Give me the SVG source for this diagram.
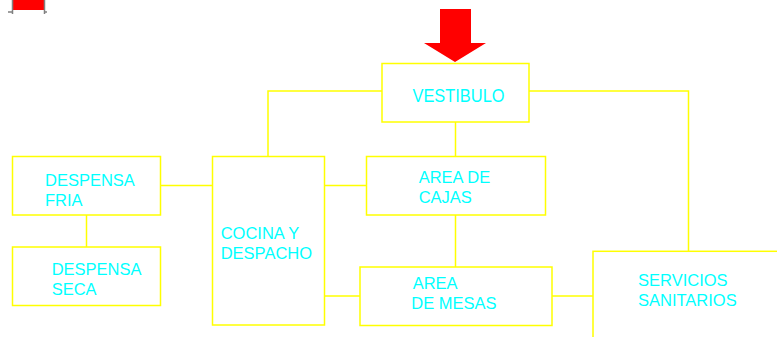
<svg xmlns="http://www.w3.org/2000/svg" width="777" height="337" viewBox="0 0 777 337">
<style>
.box{fill:none;stroke:#ffff00;stroke-width:1.5}
.con{fill:none;stroke:#ffff00;stroke-width:1.5}
.t{font-family:"Liberation Sans",Arial,sans-serif;font-size:16.5px;fill:#00ffff}
</style>
<rect width="777" height="337" fill="#ffffff"/>
<g id="marker-top-left">
<rect x="13" y="0" width="31" height="10" fill="#ff0000"/>
<path d="M12.5 0V14M44.5 0V14M8 12H12.5M44.5 12H47" stroke="#808080" stroke-width="1.5" fill="none"/>
</g>
<g id="entry-arrow">
<polygon points="440,9 471,9 471,43 486,43 455,62 424,43 440,43" fill="#ff0000"/>
</g>
<g id="connectors">
<path class="con" d="M382 91H268V157"/>
<path class="con" d="M529 91H688.5V251"/>
<path class="con" d="M455.5 122V157"/>
<path class="con" d="M160 185.5H212"/>
<path class="con" d="M86.5 215V247"/>
<path class="con" d="M324 185.5H366"/>
<path class="con" d="M324 296H360"/>
<path class="con" d="M455.5 215V267"/>
<path class="con" d="M552 296H593"/>
</g>
<g id="vestibulo">
<rect class="box" x="382" y="63.5" width="147" height="58.5"/>
<text class="t" x="412.5" y="101.7" style="font-size:18.5px" textLength="92" lengthAdjust="spacingAndGlyphs">VESTIBULO</text>
</g>
<g id="despensa-fria">
<rect class="box" x="12.5" y="156.5" width="148" height="58.5"/>
<text class="t" x="45" y="185.7">DESPENSA</text>
<text class="t" x="45" y="205.7">FRIA</text>
</g>
<g id="despensa-seca">
<rect class="box" x="12.5" y="247" width="148" height="58.5"/>
<text class="t" x="51.7" y="274.7">DESPENSA</text>
<text class="t" x="51.7" y="294.7">SECA</text>
</g>
<g id="cocina">
<rect class="box" x="212.5" y="156.5" width="112" height="168.5"/>
<text class="t" x="220.7" y="239">COCINA Y</text>
<text class="t" x="220.7" y="258.7">DESPACHO</text>
</g>
<g id="area-cajas">
<rect class="box" x="366.5" y="156.5" width="179" height="58.5"/>
<text class="t" x="418.7" y="183">AREA DE</text>
<text class="t" x="418.7" y="203">CAJAS</text>
</g>
<g id="area-mesas">
<rect class="box" x="360" y="267" width="192" height="58.5"/>
<text class="t" x="412.7" y="288.7">AREA</text>
<text class="t" x="411.3" y="308.7">DE MESAS</text>
</g>
<g id="servicios">
<rect class="box" x="593" y="251.3" width="250" height="150"/>
<text class="t" x="638" y="285.7">SERVICIOS</text>
<text class="t" x="638" y="305.7">SANITARIOS</text>
</g>
</svg>
